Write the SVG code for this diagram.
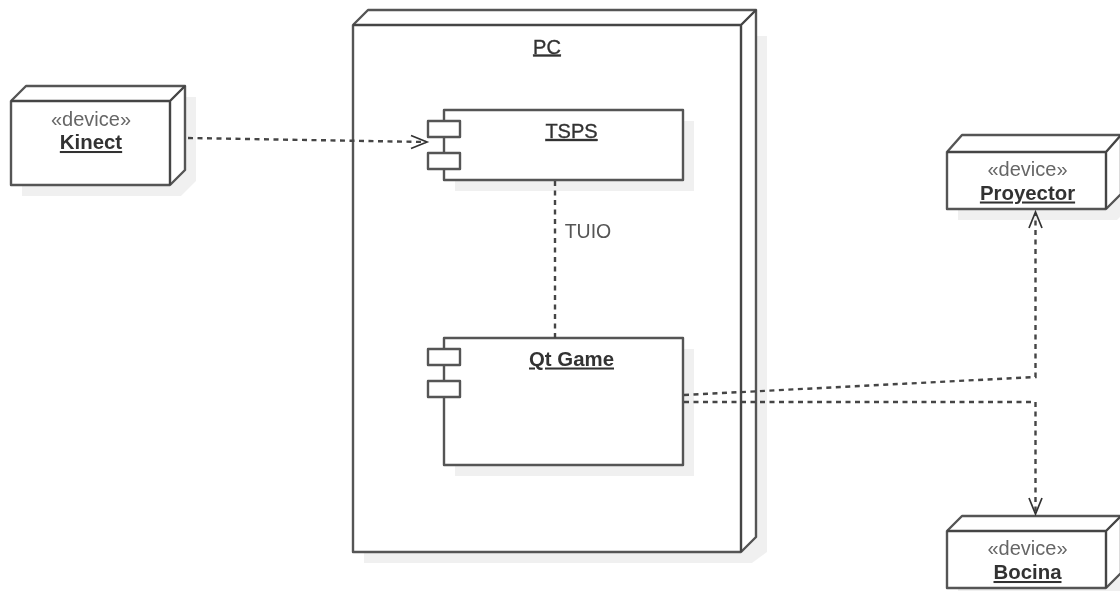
<svg xmlns="http://www.w3.org/2000/svg" width="1120" height="591" viewBox="0 0 1120 591">
<style>
.s{fill:#000;fill-opacity:.06;stroke:none}
.b{fill:#fff;stroke:#555;stroke-width:2.4;stroke-linejoin:round}
.e{fill:none;stroke:#444;stroke-width:2.4;stroke-linejoin:round}
.c{fill:none;stroke:#444;stroke-width:2.4;stroke-dasharray:5 4.500}
.h{fill:none;stroke:#333;stroke-width:1.7}
text{font-family:"Liberation Sans",Arial,sans-serif;text-anchor:middle;fill:#333}
.st{font-size:20px;fill:#666}
.n{font-size:20.4px;font-weight:bold;text-decoration:underline}
.p{font-size:20px;text-decoration:underline;stroke:#333;stroke-width:.35}
.l{font-size:19.5px;fill:#555}
</style>
<defs><filter id="soft" x="0" y="0" width="100%" height="100%" filterUnits="userSpaceOnUse" primitiveUnits="userSpaceOnUse"><feGaussianBlur stdDeviation="0.45"/></filter></defs>
<rect width="1120" height="591" fill="#fff"/>
<g filter="url(#soft)">
<g id="pc">
<path class="s" d="M364 563V36H767V552L752 563Z"/>
<path class="b" d="M353 25L368 10H756V537L741 552H353Z"/>
<path class="e" d="M353 25H741V552M741 25L756 10"/>
<text class="p" x="547" y="53.500">PC</text>
</g>
<g id="kinect">
<path class="s" d="M22 196V97H196V181L181 196Z"/>
<path class="b" d="M11 101L26 86H185V170L170 185H11Z"/>
<path class="e" d="M11 101H170V185M170 101L185 86"/>
<text class="st" x="91" y="125.500">«device»</text>
<text class="n" x="91" y="149">Kinect</text>
</g>
<g id="tsps">
<rect class="s" x="455" y="121" width="239" height="70"/>
<rect class="b" x="444" y="110" width="239" height="70"/>
<rect class="b" x="428" y="121" width="32" height="16"/>
<rect class="b" x="428" y="153" width="32" height="16"/>
<text class="p" x="571.500" y="138">TSPS</text>
</g>
<g id="qtgame">
<rect class="s" x="455" y="349" width="239" height="127"/>
<rect class="b" x="444" y="338" width="239" height="127"/>
<rect class="b" x="428" y="349" width="32" height="16"/>
<rect class="b" x="428" y="381" width="32" height="16"/>
<text class="n" x="571.500" y="365.500">Qt Game</text>
</g>
<g id="proyector">
<path class="s" d="M958 220V146H1132V205L1117 220Z"/>
<path class="b" d="M947 152L962 135H1121V194L1106 209H947Z"/>
<path class="e" d="M947 152H1106V209M1106 152L1121 135"/>
<text class="st" x="1027.500" y="176">«device»</text>
<text class="n" x="1027.500" y="199.500">Proyector</text>
</g>
<g id="bocina">
<path class="s" d="M958 599V527H1132V584L1117 599Z"/>
<path class="b" d="M947 531L962 516H1121V573L1106 588H947Z"/>
<path class="e" d="M947 531H1106V588M1106 531L1121 516"/>
<text class="st" x="1027.500" y="555">«device»</text>
<text class="n" x="1027.500" y="579">Bocina</text>
</g>
<g id="connectors">
<path class="c" d="M188 138L426 142"/>
<path class="h" d="M411 135.500L427 142L411 148.500"/>
<path class="c" d="M555 181V338"/>
<path class="c" d="M684 395L1035.500 377V214"/>
<path class="h" d="M1029 228L1035.500 212L1042 228"/>
<path class="c" d="M684 402H1035.500V513"/>
<path class="h" d="M1029 498L1035.500 514L1042 498"/>
<text class="l" x="588" y="238">TUIO</text>
</g>
</g>
</svg>
